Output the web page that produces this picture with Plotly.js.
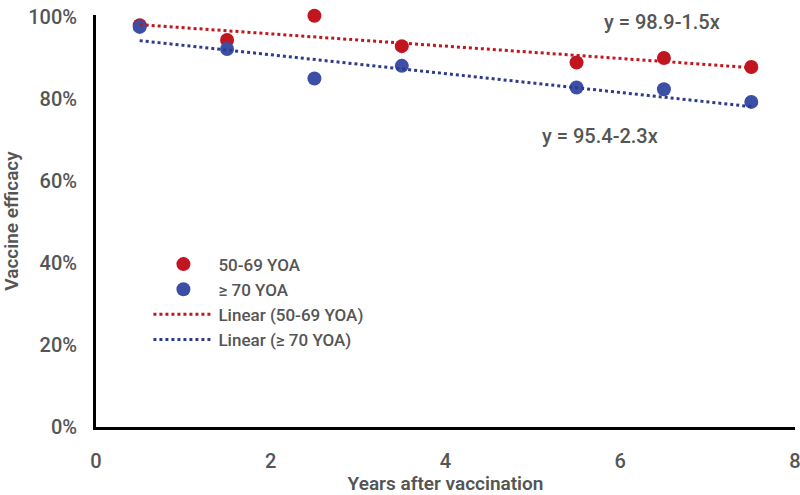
<!DOCTYPE html>
<html>
<head>
<meta charset="utf-8">
<script src="https://cdn.plot.ly/plotly-3.0.1.min.js"></script>
<style>
  html, body { margin: 0; padding: 0; background: #fff; }
  #chart { width: 800px; height: 495px; }
</style>
</head>
<body>
<div id="chart"></div>
<script>
// years after vaccination
var years = [0.5, 1.5, 2.5, 3.5, 5.5, 6.5, 7.5];

// vaccine efficacy, %
var eff5069 = [98.0, 94.4, 100.3, 92.9, 88.9, 90.0, 87.8];
var eff70 = [97.6, 92.2, 85.0, 88.1, 82.8, 82.4, 79.3];

// trendline coefficients (intercept, slope)
var fit5069 = [98.9, -1.5];
var fit70 = [95.4, -2.3];

var names = ["50-69 YOA", "\u2265 70 YOA"];
var fitLabels = ["y = 98.9-1.5x", "y = 95.4-2.3x"];

var xTicks = [0, 2, 4, 6, 8];
var yTicks = [0, 20, 40, 60, 80, 100];

var red = "#c1161f";
var blue = "#3c4fa6";
var textGrey = "#555555";

// line from first to last x using the given coefficients
function trend(fit) {
  let xs = [years[0], years[years.length - 1]];
  return { x: xs, y: xs.map(v => fit[0] + fit[1] * v) };
}

let t1 = trend(fit5069);
let t2 = trend(fit70);

let data = [
  {
    x: years, y: eff5069, name: names[0],
    type: "scatter", mode: "markers", cliponaxis: false,
    marker: { color: red, size: 14 }
  },
  {
    x: years, y: eff70, name: names[1],
    type: "scatter", mode: "markers", cliponaxis: false,
    marker: { color: blue, size: 14 }
  },
  {
    x: t1.x, y: t1.y, name: "Linear (" + names[0] + ")",
    type: "scatter", mode: "lines",
    line: { color: red, width: 3, dash: "dot" }
  },
  {
    x: t2.x, y: t2.y, name: "Linear (" + names[1] + ")",
    type: "scatter", mode: "lines",
    line: { color: "#2e3b8c", width: 3, dash: "dot" }
  }
];

let layout = {
  width: 800,
  height: 495,
  margin: { l: 96, r: 5, t: 15, b: 68 },
  paper_bgcolor: "#fff",
  plot_bgcolor: "#fff",
  font: { family: "Roboto, sans-serif", size: 20, color: textGrey, weight: 500 },
  showlegend: true,
  legend: {
    x: 0.075, y: 0.438, xanchor: "left", yanchor: "top",
    bgcolor: "rgba(0,0,0,0)",
    font: { size: 17, color: textGrey, weight: 500 },
    itemwidth: 60,
    tracegroupgap: 0
  },
  xaxis: {
    range: [0, 8.0001],
    tickvals: xTicks,
    ticktext: xTicks.map(String),
    showgrid: false,
    zeroline: false,
    showline: true,
    linecolor: "#000",
    linewidth: 3,
    ticks: "",
    ticklabelstandoff: 14,
    ticklabeloverflow: "allow",
    title: { text: "Years after vaccination", standoff: 12, font: { size: 19, weight: 600 } }
  },
  yaxis: {
    range: [0, 100.5],
    tickvals: yTicks,
    ticktext: yTicks.map(v => v + "%"),
    showgrid: false,
    zeroline: false,
    showline: true,
    linecolor: "#000",
    linewidth: 3,
    ticks: "",
    ticklabelstandoff: 12,
    title: { text: "Vaccine efficacy", standoff: 8, font: { size: 19, weight: 600 } }
  },
  annotations: [
    {
      x: 6.48, y: 1.018, xref: "x", yref: "paper",
      text: fitLabels[0], showarrow: false,
      font: { size: 20, color: textGrey }
    },
    {
      x: 5.77, y: 70.9, xref: "x", yref: "y",
      text: fitLabels[1], showarrow: false,
      font: { size: 20, color: textGrey }
    }
  ]
};

Plotly.newPlot("chart", data, layout, { displayModeBar: false, staticPlot: true });
</script>
</body>
</html>
